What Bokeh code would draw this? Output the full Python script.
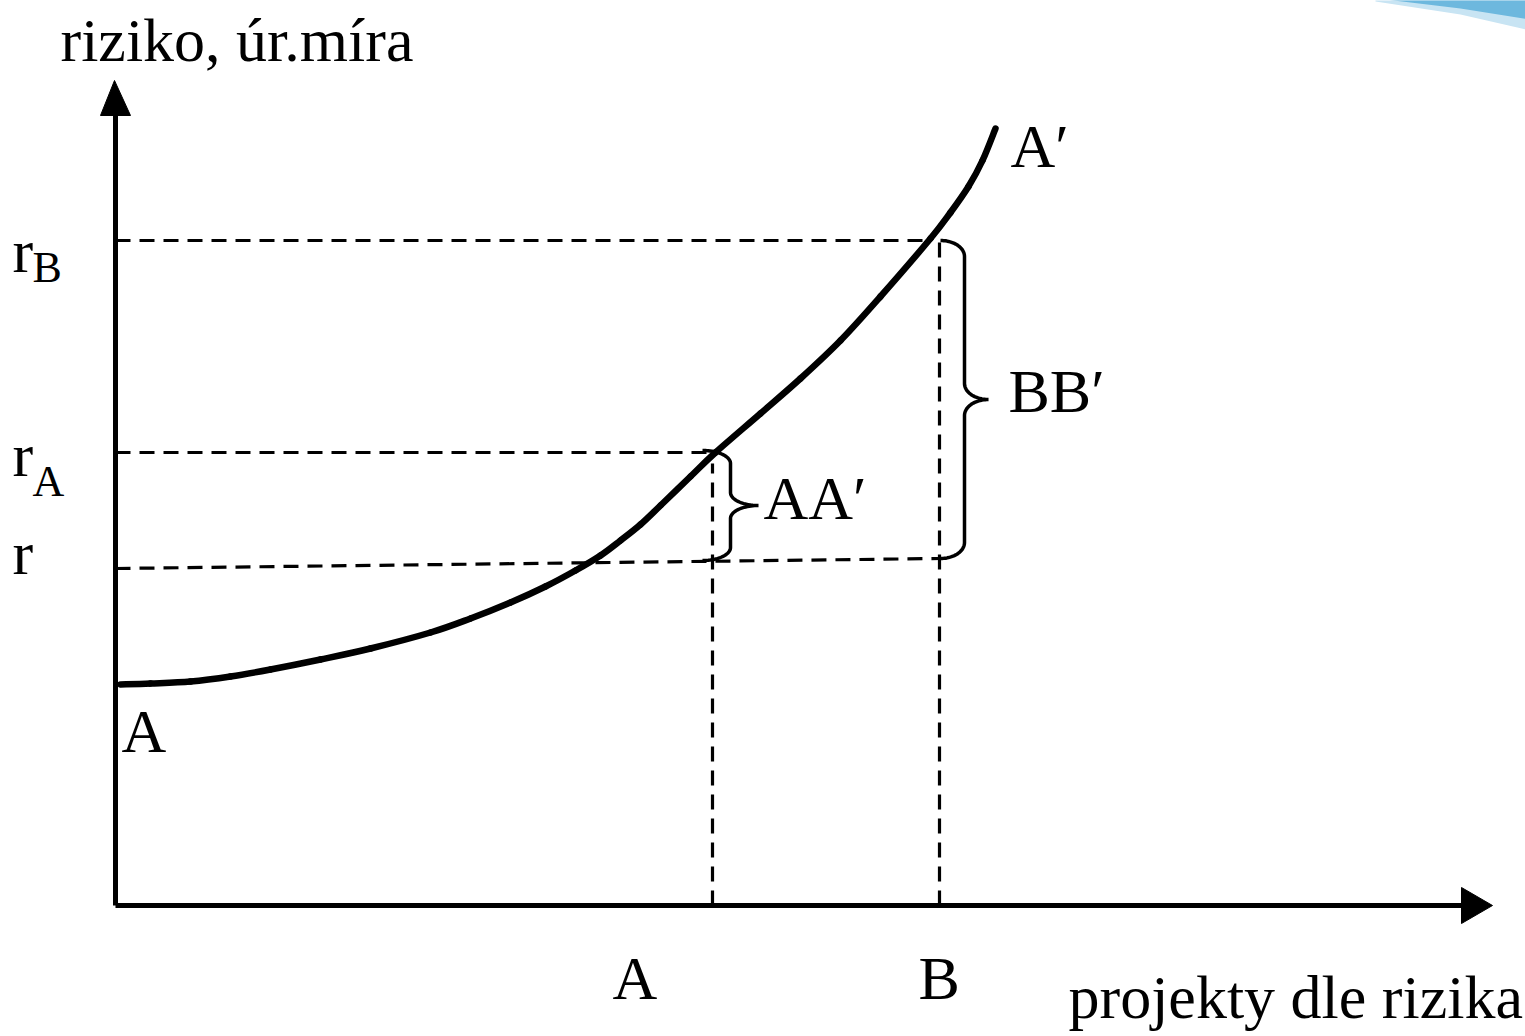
import numpy as np
from bokeh.plotting import figure
from bokeh.models import Range1d
from bokeh.core.properties import value
from bokeh.embed import file_html
from bokeh.resources import INLINE

# ---------------- data (chart units) ----------------
curve_x = [0.5, 3.5, 7.5, 11.5, 15.5, 20.5, 25.5, 31.5, 35.5, 39.5, 43.0,
           46.0, 48.5, 50.5, 52.5, 54.5, 57.5, 60.0, 64.5, 68.5, 72.5,
           76.5, 81.5, 83.5, 85.3, 86.7, 88.0]
curve_y = [22.1, 22.2, 22.4, 22.9, 23.6, 24.6, 25.7, 27.3, 28.7, 30.3, 31.9,
           33.5, 35.0, 36.5, 38.1, 40.0, 42.9, 45.3, 49.2, 52.7, 56.5,
           60.9, 66.7, 69.3, 71.9, 74.5, 77.7]

r_line_x = [0.0, 82.5]
r_line_y = [33.7, 34.7]
rA = 45.3
rB = 66.5
xA = 59.7
xB = 82.4
xA_cross = 60.0
xB_cross = 81.5

x_axis_max = 137.7
y_axis_max = 82.5

y_tick_labels = ["r", "r", "r"]
y_tick_subs = ["B", "A", ""]
x_tick_labels = ["A", "B"]
title_y = "riziko, úr.míra"
title_x = "projekty dle rizika"
curve_labels = ["A", "A′"]
brace_labels = ["AA′", "BB′"]

FONT = value("Liberation Serif")
DY = 2.3    # baseline correction for 62px text
DYS = 1.6   # baseline correction for subscripts

p = figure(width=1525, height=1036,
           x_range=Range1d(-11.5, 141.0), y_range=Range1d(-13.1, 90.5),
           output_backend="svg", toolbar_location=None,
           x_axis_type=None, y_axis_type=None, min_border=0)
p.grid.visible = False
p.outline_line_color = None
p.background_fill_color = "white"
p.border_fill_color = "white"

# decorative blue swoosh (top-right corner)
p.patch([126.0, 141.5, 141.5, 134.5, 126.0], [90.6, 90.6, 87.5, 89.1, 90.4],
        fill_color="#c8e4f3", line_color=None)
p.patch([127.0, 141.5, 141.5, 134.5, 127.0], [90.6, 90.6, 88.6, 89.7, 90.6],
        fill_color="#6db8de", line_color=None)

# axes with arrow heads
p.line([0, 0], [0, y_axis_max - 3.2], line_width=5, color="black")
p.line([0, x_axis_max - 3.0], [0, 0], line_width=5, color="black")
p.patch([-0.1, -1.5, 1.5], [y_axis_max, y_axis_max - 3.5, y_axis_max - 3.5],
        fill_color="black", line_color="black")
p.patch([x_axis_max, x_axis_max - 3.1, x_axis_max - 3.1], [0, 1.8, -1.8],
        fill_color="black", line_color="black")

# dashed guide lines
dash = "15 9"
lw_d = 3.2
p.line([0, xB_cross], [rB, rB], line_width=lw_d, color="black", line_dash=dash)
p.line([0, xA_cross], [rA, rA], line_width=lw_d, color="black", line_dash=dash)
p.line(r_line_x, r_line_y, line_width=lw_d, color="black", line_dash=dash)
p.line([xA, xA], [0, rA - 1.1], line_width=lw_d, color="black", line_dash=dash)
p.line([xB, xB], [0, rB], line_width=lw_d, color="black", line_dash=dash)

# curve rendered as Catmull-Rom bezier segments through the read points
cx = np.array(curve_x); cy = np.array(curve_y)
px_ = np.concatenate([[cx[0]], cx, [cx[-1]]])
py_ = np.concatenate([[cy[0]], cy, [cy[-1]]])
x0s, y0s, x1s, y1s, c0x, c0y, c1x, c1y = [], [], [], [], [], [], [], []
for i in range(1, len(px_) - 2):
    x0s.append(px_[i]); y0s.append(py_[i])
    x1s.append(px_[i + 1]); y1s.append(py_[i + 1])
    c0x.append(px_[i] + (px_[i + 1] - px_[i - 1]) / 6.0)
    c0y.append(py_[i] + (py_[i + 1] - py_[i - 1]) / 6.0)
    c1x.append(px_[i + 1] - (px_[i + 2] - px_[i]) / 6.0)
    c1y.append(py_[i + 1] - (py_[i + 2] - py_[i]) / 6.0)
p.bezier(x0=x0s, y0=y0s, x1=x1s, y1=y1s, cx0=c0x, cy0=c0y, cx1=c1x, cy1=c1y,
         line_width=6.5, line_color="black", line_cap="round")


def brace(x0, y_top, y_bot, rx, ry, n=24):
    ym = (y_top + y_bot) / 2.0
    t = np.linspace(0, np.pi / 2, n)
    xs, ys = [], []
    xs += list(x0 + rx * np.sin(t)); ys += list(y_top - ry + ry * np.cos(t))
    xs += list(x0 + 2 * rx - rx * np.cos(t)); ys += list(ym + ry - ry * np.sin(t))
    xs += list(x0 + 2 * rx - rx * np.cos(t[::-1])); ys += list(ym - ry + ry * np.sin(t[::-1]))
    xs += list(x0 + rx * np.sin(t[::-1])); ys += list(y_bot + ry - ry * np.cos(t[::-1]))
    return xs, ys


bx, by = brace(xA - 1.0, rA + 0.2, r_line_y[0] + 0.8, 2.8, 1.3)
p.line(bx, by, line_width=3.5, color="black")
bx, by = brace(xB + 0.1, rB, r_line_y[1], 2.4, 1.6)
p.line(bx, by, line_width=3.5, color="black")

# texts
big = "62px"
p.text([-5.5], [84.3 + DY], text=[title_y], text_font=FONT, text_font_size=big,
       text_baseline="alphabetic", text_align="left", text_color="black")
p.text([95.3], [-11.4 + DY], text=[title_x], text_font=FONT, text_font_size=big,
       text_baseline="alphabetic", text_align="left", text_color="black")

# y tick labels
p.text([-10.3, -10.3, -10.3], [63.2 + DY, 42.8 + DY, 33.0 + DY], text=y_tick_labels,
       text_font=FONT, text_font_size=big, text_baseline="alphabetic", text_align="left",
       text_color="black")
p.text([-8.3, -8.3], [62.2 + DYS, 40.8 + DYS], text=y_tick_subs[:2], text_font=FONT,
       text_font_size="44px", text_baseline="alphabetic", text_align="left", text_color="black")

# x tick labels
p.text([49.7, 80.3], [-9.5 + DY, -9.5 + DY], text=x_tick_labels, text_font=FONT,
       text_font_size=big, text_baseline="alphabetic", text_align="left", text_color="black")

# curve labels
p.text([0.6, 89.5], [15.2 + DY, 73.7 + DY], text=curve_labels, text_font=FONT,
       text_font_size=big, text_baseline="alphabetic", text_align="left", text_color="black")

# brace labels
p.text([64.8, 89.3], [38.5 + DY, 49.2 + DY], text=brace_labels, text_font=FONT,
       text_font_size=big, text_baseline="alphabetic", text_align="left", text_color="black")

open("out.html", "w").write(file_html(p, INLINE))
